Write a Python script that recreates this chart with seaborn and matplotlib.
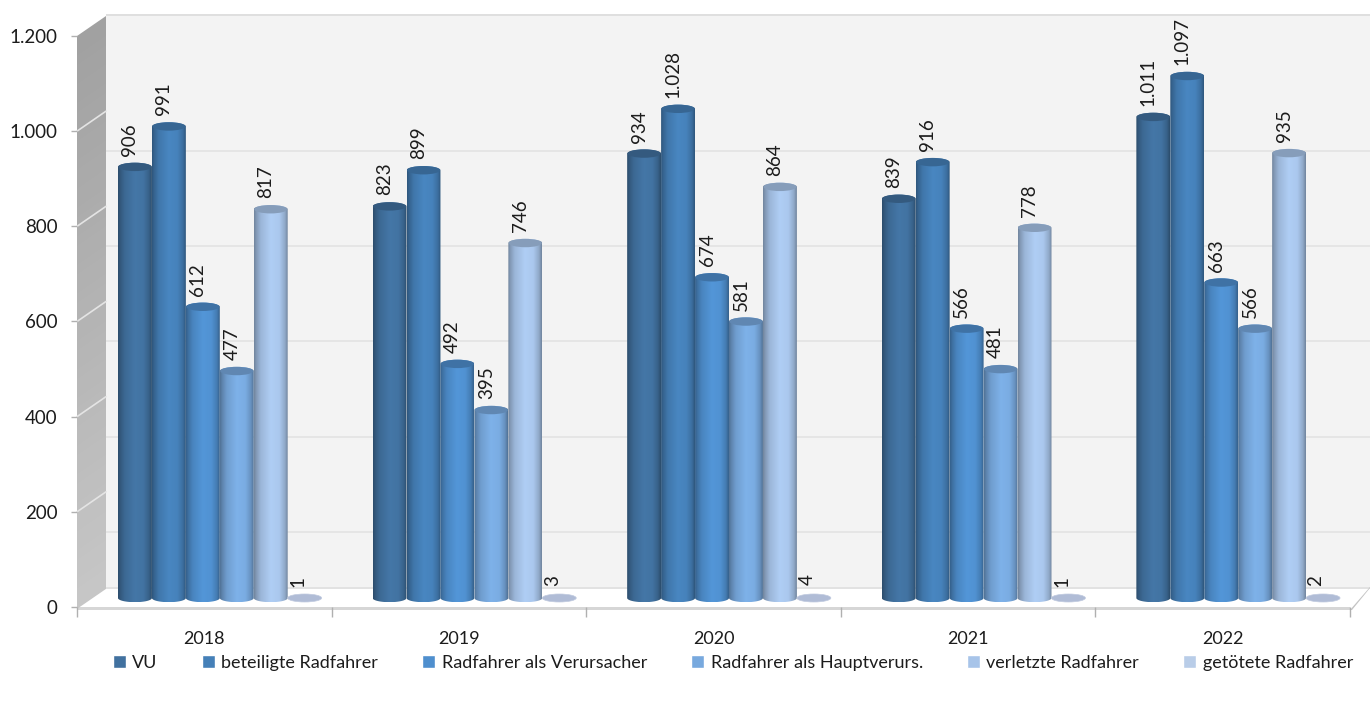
import numpy as np
import pandas as pd
import matplotlib
matplotlib.use("Agg")
import matplotlib.pyplot as plt
import seaborn as sns
from matplotlib.patches import Polygon, Ellipse
from matplotlib.path import Path
from matplotlib.colors import to_rgb
from matplotlib.ticker import FuncFormatter
from matplotlib.transforms import Affine2D

years = ["2018", "2019", "2020", "2021", "2022"]
series = ["VU", "beteiligte Radfahrer", "Radfahrer als Verursacher",
          "Radfahrer als Hauptverurs.", "verletzte Radfahrer", "getötete Radfahrer"]
vu = [906, 823, 934, 839, 1011]
beteiligte = [991, 899, 1028, 916, 1097]
verursacher = [612, 492, 674, 566, 663]
hauptverurs = [477, 395, 581, 481, 566]
verletzte = [817, 746, 864, 778, 935]
getoetete = [1, 3, 4, 1, 2]
colors = ["#41719f", "#4580b8", "#4f8fce", "#78a9de", "#a7c4e9", "#b9cde8"]

df = pd.DataFrame({
    "Jahr": np.tile(years, len(series)),
    "Kategorie": np.repeat(series, len(years)),
    "Wert": vu + beteiligte + verursacher + hauptverurs + verletzte + getoetete,
})

W, H = 1370, 702
sns.set_theme(style="white")
plt.rcParams["font.family"] = ["Lato", "DejaVu Sans"]
TXT = "#1c1c1c"
fig = plt.figure(figsize=(W / 100, H / 100), dpi=100, facecolor="white")

def rect(x0, ytop, x1, ybot):
    return [x0 / W, 1 - ybot / H, (x1 - x0) / W, (ybot - ytop) / H]

L, T, R, B = 77, 36, 1350, 607
DX, DY = 29, 20
ax = fig.add_axes(rect(L, T, R, B))
ax.set_xlim(-0.5, 4.5)
ax.set_ylim(0, 1200)
ax.patch.set_visible(False)
for s in ax.spines.values():
    s.set_visible(False)

def fpoly(pts, **kw):
    p = Polygon([(x / W, 1 - y / H) for x, y in pts], closed=True,
                transform=fig.transFigure, zorder=-5, **kw)
    fig.add_artist(p)
    return p

# back wall, floor
fpoly([(L + DX, T - DY - 2), (W, T - DY - 2), (W, B - DY + 2), (L + DX, B - DY + 2)], fc="#f3f3f3", ec="none")
fpoly([(L + DX, T - DY - 2), (W, T - DY - 2), (W, T - DY), (L + DX, T - DY)], fc="#dfdfdf", ec="none")
fpoly([(L, B + 2), (L + DX, B - DY), (W, B - DY), (R, B + 2)], fc="#ffffff", ec="none")
fpoly([(L + DX, B - DY), (W, B - DY), (W, B - DY + 2), (L + DX, B - DY + 2)], fc="#e2e2e2", ec="none")
fpoly([(L, B), (R, B), (R, B + 3), (L, B + 3)], fc="#d6d6d6", ec="none")
fpoly([(R, B + 3), (W, B - DY), (W, B - DY + 1), (R + 2, B + 3)], fc="#c4c4c4", ec="none")

# side wall with vertical fade
ny = 60
for i in range(ny):
    f0, f1 = i / ny, (i + 1.2) / ny
    c = 0.63 + 0.15 * f0
    fpoly([(L, T + (B - T) * f0), (L + DX, T - DY + (B - T) * f0),
           (L + DX, T - DY + (B - T) * f1), (L, T + (B - T) * f1)], fc=(c, c, c), ec="none")

# gridlines on wall and side
yvals = np.arange(0, 1201, 200)
shift = Affine2D().translate(DX, -DY)
ax.hlines(yvals[1:-1], -0.5, 4.5 + 20 / 254.6, colors="#e3e3e3", lw=1.2,
          transform=ax.transData + shift, clip_on=False, zorder=0)
for v in yvals[1:-1]:
    ax.plot([-0.5, -0.5 + DX * 5 / (R - L)], [v, v + DY * 1200 / (B - T)],
            color="#e4e4e4", lw=1.2, clip_on=False, zorder=0)

# axis ticks
ax.yaxis.set_major_formatter(FuncFormatter(lambda v, _: f"{int(v):,}".replace(",", ".")))
ax.set_yticks(yvals)
ax.set_xticks(range(len(years)), years)
ax.set_xticks(np.arange(-0.5, 5), minor=True)
ax.tick_params(axis="x", which="major", length=0, pad=17.5, labelsize=13, labelcolor=TXT)
ax.tick_params(axis="x", which="minor", length=7, width=1, color="#b0b0b0", bottom=True)
ax.tick_params(axis="y", length=4.5, width=1, color="#b0b0b0", left=True, labelsize=13.5,
               labelcolor=TXT, pad=9.5)
ax.set_xlabel("")
ax.set_ylabel("")

# bars
OX, OY = 15.5, 9
bx = fig.add_axes(rect(L + OX, T - OY, R + OX, B - OY))
bx.patch.set_visible(False)
sns.barplot(data=df, x="Jahr", y="Wert", hue="Kategorie", order=years, hue_order=series,
            palette=colors, width=0.8, gap=0, saturation=1, errorbar=None, ax=bx, legend=True)
handles, labels = bx.get_legend_handles_labels()
bx.get_legend().remove()
bx.set_xlim(-0.5, 4.5)
bx.set_ylim(0, 1200)
bx.axis("off")

PX = 1200 / (B - T)
prof_t = [0.0, 0.06, 0.2, 0.5, 0.75, 0.92, 1.0]
prof_f = [0.68, 0.78, 0.93, 1.05, 1.02, 0.86, 0.68]
grad_x = np.linspace(0, 1, 64)
z = 1
for cont, col in zip(bx.containers, colors):
    base = np.array(to_rgb(col))
    for p, val in zip(cont.patches, cont.datavalues):
        p.set_visible(False)
        x0, w = p.get_x(), p.get_width()
        cx = x0 + w / 2
        if val < 50:
            bx.add_patch(Ellipse((cx, 0), w, 8 * PX, fc="#b0bcd6", ec="#c0cadf", lw=0.5,
                                 clip_on=False, zorder=z))
        else:
            t = np.linspace(0, np.pi, 40)
            ry = 4.2 * PX
            xs = np.r_[cx - w / 2 * np.cos(t), cx + w / 2 * np.cos(t)]
            ys = np.r_[-ry * np.sin(t), val + ry * np.sin(t)]
            clip = Path(np.c_[xs, ys])
            fac = np.interp(grad_x, prof_t, prof_f)[None, :, None]
            img = np.clip(base[None, None, :] * fac, 0, 1)
            im = bx.imshow(img, extent=(x0, x0 + w, -ry, val + ry), aspect="auto",
                           interpolation="bilinear", zorder=z)
            im.set_clip_box(fig.bbox)
            im.set_clip_path(clip, bx.transData)
            bx.add_patch(Ellipse((cx, val), w * 0.97, 8.4 * PX, fc=base * 0.8, ec="none",
                                 clip_on=False, zorder=z + 0.5))
        shift_x = -7 if val < 50 else -5
        bx.annotate(f"{int(val):,}".replace(",", "."), (cx, val), xytext=(shift_x, 11),
                    textcoords="offset pixels", rotation=90, ha="center", va="bottom",
                    fontsize=13.5, color=TXT, annotation_clip=False, zorder=50)
        z += 1
bx.set_xlim(-0.5, 4.5)
bx.set_ylim(0, 1200)

fig.legend(handles, labels, loc="center", bbox_to_anchor=(733 / W, 1 - 663 / H), ncol=6,
           frameon=False, fontsize=13, handlelength=0.72, handleheight=0.72, handletextpad=0.35,
           columnspacing=2.45, labelcolor=TXT, borderpad=0, borderaxespad=0)

fig.savefig("out.png", dpi=100, facecolor="white")
